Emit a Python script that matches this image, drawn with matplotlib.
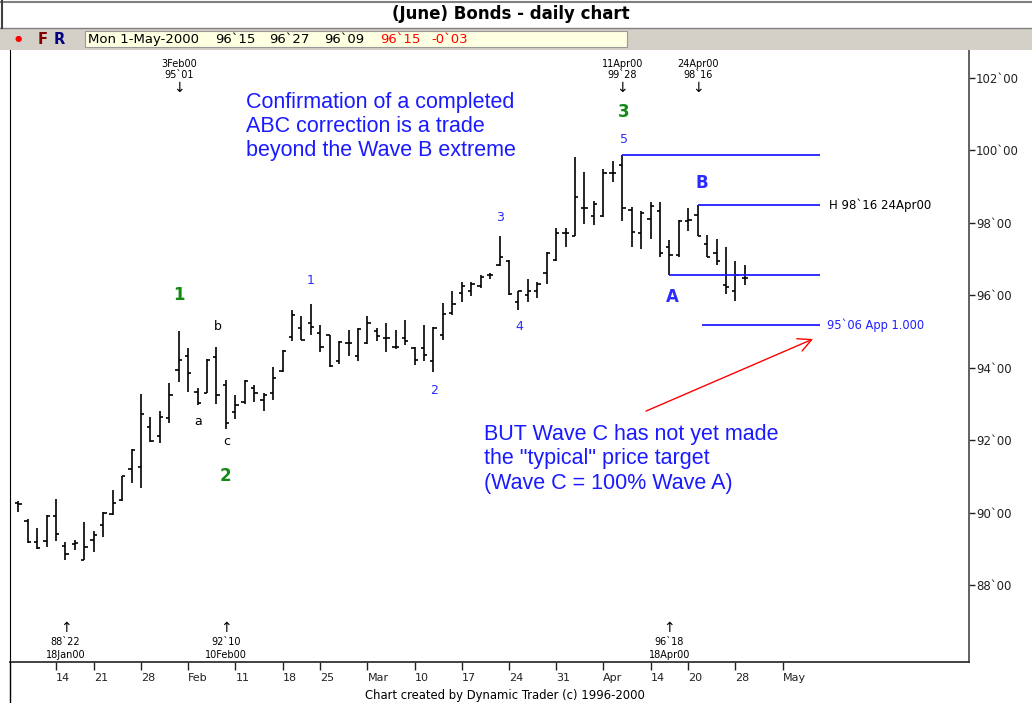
import numpy as np
import pandas as pd
import matplotlib
matplotlib.use('Agg')
import matplotlib.pyplot as plt
from matplotlib.transforms import ScaledTranslation
from matplotlib.patches import Rectangle
from matplotlib.lines import Line2D

# ---------------------------------------------------------
# datos: barras diarias bonos (junio), 10-Ene-2000 a 1-May-2000
# ---------------------------------------------------------
feriados = pd.to_datetime(['2000-01-17', '2000-02-21', '2000-04-21'])
dias_eje = pd.bdate_range('2000-01-10', '2000-06-30').drop(feriados)
fechas = dias_eje[dias_eje <= '2000-05-01']

aperturas = [90.28, 89.79, 89.19, 89.23, 89.93, 89.10, 89.14, 88.71, 89.26, 89.67,
             89.97, 90.36, 91.22, 91.28, 92.36, 92.11, 92.63, 93.95, 94.34, 93.33,
             93.32, 94.30, 93.53, 92.78, 93.05, 93.44, 93.12, 93.32, 93.92, 94.85,
             95.10, 95.24, 94.96, 94.90, 94.18, 94.70, 94.32, 94.68, 95.01, 94.82,
             94.59, 94.82, 94.55, 94.55, 94.18, 94.91, 95.51, 96.06, 96.11, 96.25,
             96.57, 96.84, 96.95, 95.83, 96.02, 96.11, 96.61, 96.98, 97.72, 97.63,
             98.41, 98.18, 98.18, 99.37, 99.60, 98.36, 97.72, 98.12, 98.32, 97.33,
             97.12, 98.04, 98.21, 97.42, 97.17, 96.29, 96.11, 96.469]
maximos = [90.32, 89.84, 89.58, 89.95, 90.39, 89.21, 89.26, 89.76, 89.51, 90.04,
           90.64, 91.01, 91.77, 93.29, 92.66, 92.80, 93.58, 95.03, 94.55, 93.46,
           94.24, 94.57, 93.67, 93.26, 93.67, 93.52, 93.30, 94.04, 94.50, 95.59,
           95.42, 95.77, 95.19, 94.90, 94.75, 95.05, 95.10, 95.42, 95.10, 95.24,
           95.05, 95.33, 94.57, 95.19, 95.13, 95.79, 96.11, 96.38, 96.36, 96.57,
           96.63, 97.64, 96.98, 96.13, 96.45, 96.38, 97.21, 97.86, 97.86, 99.83,
           99.40, 98.61, 99.48, 99.72, 99.875, 98.45, 98.32, 98.59, 98.59, 97.53,
           98.09, 98.41, 98.50, 97.67, 97.55, 97.33, 96.95, 96.844]
minimos = [90.02, 89.17, 89.01, 89.07, 89.23, 88.69, 88.98, 88.69, 88.92, 89.35,
           89.95, 90.33, 90.82, 90.70, 91.97, 91.92, 92.48, 93.61, 93.33, 92.98,
           93.30, 93.01, 92.31, 92.60, 93.00, 93.06, 92.82, 93.12, 93.88, 94.73,
           94.76, 94.91, 94.45, 94.04, 94.10, 94.32, 94.20, 94.66, 94.73, 94.45,
           94.53, 94.62, 94.07, 94.20, 93.88, 94.77, 95.46, 95.83, 95.99, 96.20,
           96.45, 96.82, 96.02, 95.60, 95.83, 95.92, 96.32, 96.94, 97.35, 97.63,
           97.98, 97.93, 98.16, 99.12, 98.04, 97.35, 97.29, 97.55, 97.06, 96.5625,
           97.07, 97.79, 97.65, 97.06, 96.84, 96.04, 95.86, 96.281]
cierres = [90.26, 89.19, 89.03, 89.93, 89.43, 88.86, 89.16, 89.06, 89.40, 89.99,
           90.27, 91.01, 91.74, 92.73, 91.99, 92.66, 93.26, 94.22, 93.86, 93.03,
           94.21, 93.26, 92.48, 92.98, 93.64, 93.30, 93.26, 93.72, 94.47, 95.47,
           94.78, 95.14, 94.59, 94.06, 94.71, 94.68, 95.07, 95.24, 94.87, 94.82,
           94.59, 94.75, 94.22, 94.36, 95.10, 95.48, 95.77, 96.25, 96.32, 96.50,
           96.57, 97.07, 96.04, 96.11, 96.11, 96.32, 97.18, 97.72, 97.72, 98.71,
           98.41, 98.53, 99.37, 99.37, 98.41, 97.74, 98.27, 98.48, 97.18, 97.12,
           98.06, 98.07, 97.65, 97.07, 96.94, 96.23, 96.57, 96.469]

# etiquetas del eje x (semanales)
fechas_ticks = ['2000-01-14', '2000-01-21', '2000-01-28', '2000-02-04', '2000-02-11',
                '2000-02-18', '2000-02-25', '2000-03-03', '2000-03-10', '2000-03-17',
                '2000-03-24', '2000-03-31', '2000-04-07', '2000-04-14', '2000-04-20',
                '2000-04-28', '2000-05-05']
etiquetas_x = ['14', '21', '28', 'Feb', '11', '18', '25', 'Mar', '10', '17', '24',
               '31', 'Apr', '14', '20', '28', 'May']
precios_y = [88, 90, 92, 94, 96, 98, 100, 102]

# pivotes marcados arriba / abajo
pivotes_alto = [('2000-02-03', '95`01'), ('2000-04-11', '99`28'), ('2000-04-24', '98`16')]
pivotes_bajo = [('2000-01-18', '88`22'), ('2000-02-10', '92`10'), ('2000-04-18', '96`18')]

# etiquetas de ondas: (texto, indice, precio, color, negrita, tamaño)
VERDE = '#138a13'
AZUL = '#2b2bff'
ondas = [('1', 17, 96.0, VERDE, True, 12), ('2', 22, 91.02, VERDE, True, 12),
         ('3', 64.2, 101.06, VERDE, True, 12),
         ('a', 19.05, 92.51, 'black', False, 9), ('b', 21.1, 95.13, 'black', False, 9),
         ('c', 22.1, 91.96, 'black', False, 9),
         ('1', 31, 96.40, AZUL, False, 9), ('2', 44.1, 93.37, AZUL, False, 9),
         ('3', 51.1, 98.14, AZUL, False, 9), ('4', 53.1, 95.13, AZUL, False, 9),
         ('5', 64.2, 100.29, AZUL, False, 9),
         ('A', 69.3, 95.96, AZUL, True, 12), ('B', 72.4, 99.10, AZUL, True, 12)]

alto_onda5 = 99.875
alto_B = 98.5
bajo_A = 96.5625
objetivo = 95.1875

# ---------------------------------------------------------
# figura
# ---------------------------------------------------------
W, H = 1032, 703
fig = plt.figure(figsize=(W / 100, H / 100), dpi=100)
ax = fig.add_axes([10 / W, 41 / H, 959 / W, 612 / H])

x = np.arange(len(fechas))
ax.vlines(x, minimos, maximos, color='black', lw=1.2)
ax.hlines(aperturas, x - 0.35, x, color='black', lw=1.2)
ax.hlines(cierres, x, x + 0.35, color='black', lw=1.2)

ax.set_xlim(-0.88, 100.75)
ax.set_ylim(85.89, 102.77)

# ejes
ax.spines['top'].set_visible(False)
ax.spines['left'].set_color('black')
ax.spines['bottom'].set_color('#333333')
ax.spines['right'].set_color('#555555')
ax.spines['right'].set_linewidth(1.3)
ax.spines['bottom'].set_linewidth(1.3)

pos_ticks = [dias_eje.get_loc(pd.Timestamp(d)) for d in fechas_ticks]
ax.set_xticks(pos_ticks)
ax.set_xticklabels(etiquetas_x, fontsize=8, family='DejaVu Sans')
desplaza = ScaledTranslation(3 / 100, 0, fig.dpi_scale_trans)
for lab in ax.get_xticklabels():
    lab.set_horizontalalignment('left')
    lab.set_transform(lab.get_transform() + desplaza)
ax.tick_params(axis='x', direction='out', length=6, width=1, pad=2, colors='#222222')

ax.yaxis.tick_right()
ax.set_yticks(precios_y)
ax.set_yticklabels([f'{p}`00' for p in precios_y], fontsize=8.5, family='DejaVu Sans')
ax.tick_params(axis='y', direction='out', length=4, width=1, pad=1, colors='#222222')

trans = ax.get_xaxis_transform()
for d, txt in pivotes_alto:
    i = fechas.get_loc(pd.Timestamp(d))
    etiqueta = pd.Timestamp(d).strftime('%-d%b%y')
    ax.text(i, 0.968, f'{etiqueta}\n{txt}', transform=trans, ha='center',
            va='center', fontsize=7, linespacing=1.2, family='DejaVu Sans')
    ax.text(i, 0.938, '\u2193', transform=trans, ha='center', va='center',
            fontsize=10, family='DejaVu Sans')
for d, txt in pivotes_bajo:
    i = fechas.get_loc(pd.Timestamp(d))
    etiqueta = pd.Timestamp(d).strftime('%-d%b%y')
    ax.text(i, 0.056, '\u2191', transform=trans, ha='center', va='center',
            fontsize=10, family='DejaVu Sans')
    ax.text(i, 0.022, f'{txt}\n{etiqueta}', transform=trans, ha='center',
            va='center', fontsize=7, linespacing=1.3, family='DejaVu Sans')

for txt, i, p, col, neg, tam in ondas:
    ax.text(i, p, txt, color=col, ha='center', va='center', fontsize=tam,
            fontweight='bold' if neg else 'normal', family='DejaVu Sans')

# lineas horizontales de referencia
i5 = fechas.get_loc(pd.Timestamp('2000-04-11'))
iB = fechas.get_loc(pd.Timestamp('2000-04-24'))
iA = fechas.get_loc(pd.Timestamp('2000-04-18'))
fin = 85
ax.hlines(alto_onda5, i5, fin, color='#2020ff', lw=1.3)
ax.hlines(alto_B, iB, fin, color='#2020ff', lw=1.3)
ax.hlines(bajo_A, iA, fin, color='#2020ff', lw=1.3)
ax.hlines(objetivo, iB + 0.5, fin, color='#2020ff', lw=1.3)
ax.text(fin + 0.9, alto_B, 'H 98`16 24Apr00', fontsize=8.5, va='center', ha='left',
        family='DejaVu Sans')
ax.text(fin + 0.7, objetivo, '95`06 App 1.000', fontsize=8.3, va='center', ha='left',
        color='#2020ff', family='DejaVu Sans')

# textos explicativos
ax.text(24.15, 101.62, 'Confirmation of a completed\nABC correction is a trade\nbeyond the Wave B extreme',
        color='#1a1aff', fontsize=15.5, family='Liberation Sans', va='top', ha='left',
        linespacing=1.2)
ax.text(49.4, 92.45, 'BUT Wave C has not yet made\nthe "typical" price target\n(Wave C = 100% Wave A)',
        color='#1a1aff', fontsize=15.5, family='Liberation Sans', va='top', ha='left',
        linespacing=1.2)
ax.annotate('', xy=(84.5, 94.83), xytext=(66.25, 92.78),
            arrowprops=dict(arrowstyle='->', color='red', lw=1, mutation_scale=24))

# cabecera
fig.add_artist(Rectangle((0, 1 - 50 / H), 1, 22 / H, transform=fig.transFigure,
                         facecolor='#d4d0c8', edgecolor='none'))
fig.add_artist(Rectangle((85 / W, 1 - 47 / H), 542 / W, 16 / H, transform=fig.transFigure,
                         facecolor='#ffffe1', edgecolor='#999999', lw=0.8))
fig.add_artist(Line2D([0, 1], [1 - 28 / H] * 2, transform=fig.transFigure, color='#808080', lw=1))
fig.add_artist(Line2D([0, 1], [1 - 1.5 / H] * 2, transform=fig.transFigure, color='#808080', lw=1.5))
fig.add_artist(Line2D([2 / W] * 2, [1 - 28 / H, 1], transform=fig.transFigure, color='#404040', lw=1.5))
fig.text(511 / W, 1 - 14 / H, '(June) Bonds - daily chart', ha='center', va='center',
         fontsize=12, fontweight='bold', family='DejaVu Sans')
fig.text(18 / W, 1 - 39 / H, '\u25cf', color='red', fontsize=6, ha='center', va='center')
fig.text(43 / W, 1 - 39 / H, 'F', color='#800000', fontsize=10.5, fontweight='bold',
         ha='center', va='center', family='DejaVu Sans')
fig.text(59 / W, 1 - 39 / H, 'R', color='#000080', fontsize=10.5, fontweight='bold',
         ha='center', va='center', family='DejaVu Sans')
cabecera = [('Mon 1-May-2000', 'black'), ('96`15', 'black'), ('96`27', 'black'),
            ('96`09', 'black'), ('96`15', 'red'), ('-0`03', 'red')]
xs = [88, 215, 269, 324, 380, 431]
for (t, c), xp in zip(cabecera, xs):
    fig.text(xp / W, 1 - 39.5 / H, t, color=c, fontsize=9.5, ha='left', va='center',
             family='DejaVu Sans')

# pie
fig.add_artist(Line2D([10 / W] * 2, [0, 41 / H], transform=fig.transFigure, color='black', lw=1))
fig.text(505 / W, 1 - 695 / H, 'Chart created by Dynamic Trader (c) 1996-2000', ha='center',
         va='center', fontsize=8.4, family='DejaVu Sans')

fig.savefig('out.png', dpi=100)
